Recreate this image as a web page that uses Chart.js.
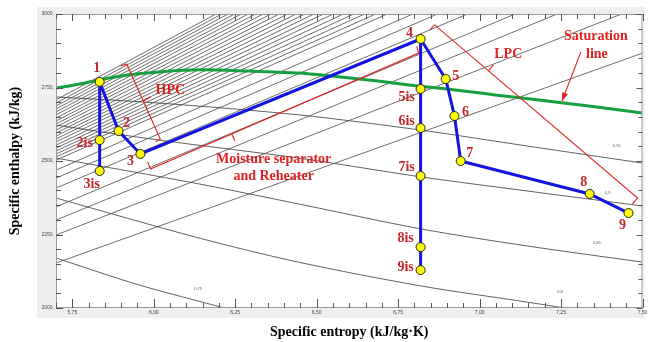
<!DOCTYPE html>
<html>
<head>
<meta charset="utf-8">
<script src="https://cdn.jsdelivr.net/npm/chart.js@4.4.1/dist/chart.umd.min.js"></script>
<style>
  html, body { margin: 0; padding: 0; background: #fff; }
</style>
</head>
<body>
<canvas id="mollier" width="648" height="342"></canvas>
<script>
// axis range (entropy kJ/kg·K, enthalpy kJ/kg)
const sMin = 5.70, sMax = 7.50;
const hMin = 2000, hMax = 3000;

// cycle state points
const stateNames = ["1", "2is", "3is", "2", "3", "4", "5is", "6is", "7is", "8is", "9is", "5", "6", "7", "8", "9"];
const stateS = [5.834, 5.834, 5.834, 5.892, 5.959, 6.819, 6.819, 6.819, 6.819, 6.819, 6.819, 6.896, 6.923, 6.942, 7.338, 7.457];
const stateH = [2769, 2571, 2466, 2602, 2524, 2915, 2745, 2612, 2449, 2207, 2129, 2779, 2653, 2500, 2388, 2323];

// process paths, by state name
const hpcIsentropic = ["1", "2is", "3is"];
const hpcActual = ["1", "2", "3", "4"];
const lpcIsentropic = ["4", "5is", "6is", "7is", "8is", "9is"];
const lpcActual = ["4", "5", "6", "7", "8", "9"];

// saturation line
const satS = [5.700, 5.773, 5.834, 5.926, 6.017, 6.139, 6.292, 6.444, 6.545, 6.688, 6.810, 6.902, 7.054, 7.207, 7.360, 7.500];
const satH = [2748, 2762, 2776, 2793, 2803, 2810, 2806, 2799, 2789, 2772, 2755, 2745, 2724, 2704, 2684, 2663];

// background isobars: h at left edge, end point at top / right edge
const isobarLeftH = [2708, 2697, 2687, 2677, 2667, 2657, 2646, 2636, 2626, 2616, 2605, 2595, 2585, 2575,
  2565, 2554, 2544, 2534, 2524, 2514, 2503, 2469, 2442, 2408, 2344, 2299, 2248, 2153];
const isobarEndS = [6.191, 6.209, 6.228, 6.248, 6.269, 6.290, 6.313, 6.336, 6.360, 6.385, 6.411, 6.437, 6.464, 6.492,
  6.521, 6.551, 6.582, 6.614, 6.647, 6.681, 6.717, 6.795, 6.871, 6.963, 7.109, 7.238, 7.436, 7.500];
const isobarEndH = [3000, 3000, 3000, 3000, 3000, 3000, 3000, 3000, 3000, 3000, 3000, 3000, 3000, 3000,
  3000, 3000, 3000, 3000, 3000, 3000, 3000, 3000, 3000, 3000, 3000, 3000, 3000, 2867];

// constant dryness lines
const qualityNames = ["0,95", "0,9", "0,85", "0,8", "0,75"];
const qualityS = [
  [5.700, 6.017, 6.444, 6.820, 7.146, 7.500],
  [5.700, 6.017, 6.444, 6.820, 7.146, 7.500],
  [5.700, 6.139, 6.444, 6.820, 7.146, 7.500],
  [5.700, 6.139, 6.444, 6.820, 7.146, 7.500],
  [5.700, 5.956, 6.216, 6.505]
];
const qualityH = [
  [2718, 2697, 2657, 2605, 2551, 2493],
  [2622, 2571, 2510, 2446, 2398, 2347],
  [2510, 2422, 2354, 2269, 2211, 2156],
  [2374, 2238, 2156, 2075, 2020, 1959],
  [2170, 2078, 2000, 1908]
];
const qualityLabelS = [7.421, 7.393, 7.360, 7.247, 6.136];
const qualityLabelH = [2551, 2391, 2221, 2054, 2065];

// red brackets and arrow (data coords)
const hpcBracket = [[5.898, 2823], [5.917, 2830], [6.020, 2575], [6.005, 2565]];
const hpcTick = [[5.968, 2704], [5.990, 2718]];
const msrBracket = [[5.981, 2497], [5.990, 2473], [6.813, 2867], [6.807, 2891]];
const msrTick = [[6.240, 2590], [6.249, 2568]];
const lpcBracket = [[6.847, 2946], [6.862, 2963], [7.485, 2374], [7.469, 2354]];
const lpcTick = [[7.027, 2806], [7.042, 2827]];
const satArrow = [[7.311, 2871], [7.253, 2704]];

const textLabels = [
  { text: "HPC", s: 6.051, h: 2741 },
  { text: "LPC", s: 7.088, h: 2864 },
  { text: "Moisture separator", s: 6.368, h: 2507 },
  { text: "and Reheater", s: 6.368, h: 2446 },
  { text: "Saturation", s: 7.357, h: 2925 },
  { text: "line", s: 7.360, h: 2861 }
];

// label offsets from each point, px
const stateLabelOffset = {
  "1": [-3, -14], "2": [8, -8], "3": [-10, 7], "2is": [-15, 3], "3is": [-8, 13],
  "4": [-11, -6], "5is": [-14, 8], "6is": [-14, -7], "7is": [-14, -9], "8is": [-15, -9], "9is": [-15, -3],
  "5": [10, -3], "6": [11, -4], "7": [9, -8], "8": [-6, -12], "9": [-6, 12]
};

const BLUE = "#1414e0";
const RED = "#e02222";
const LABEL_RED = "#c4282c";

function pathData(names) {
  return names.map(n => {
    const i = stateNames.indexOf(n);
    return { x: stateS[i], y: stateH[i] };
  });
}

function lineSet(data, color, width, order, tension) {
  return {
    data, showLine: true, borderColor: color, borderWidth: width,
    pointRadius: 0, fill: false, order, tension: tension || 0
  };
}

const datasets = [];

isobarLeftH.forEach((h, i) => {
  datasets.push(lineSet([{ x: sMin, y: h }, { x: isobarEndS[i], y: isobarEndH[i] }], "#474747", 0.8, 6));
});

qualityS.forEach((arr, i) => {
  datasets.push(lineSet(arr.map((s, j) => ({ x: s, y: qualityH[i][j] })), "#444", 0.85, 5, 0.3));
});

datasets.push(lineSet(satS.map((s, i) => ({ x: s, y: satH[i] })), "#16a040", 3, 3, 0.35));

[hpcIsentropic, hpcActual, lpcIsentropic, lpcActual].forEach(p => {
  datasets.push(lineSet(pathData(p), BLUE, 3, 1));
});

datasets.push({
  data: stateNames.map((n, i) => ({ x: stateS[i], y: stateH[i] })),
  pointRadius: 4.5, pointBackgroundColor: "#ffff00", pointBorderColor: "#222",
  pointBorderWidth: 1, showLine: false, order: 0
});

function strokePoly(ctx, xs, ys, pts) {
  ctx.beginPath();
  pts.forEach((p, i) => {
    const px = xs.getPixelForValue(p[0]), py = ys.getPixelForValue(p[1]);
    if (i === 0) ctx.moveTo(px, py); else ctx.lineTo(px, py);
  });
  ctx.stroke();
}

const mollierDecor = {
  id: "mollierDecor",
  beforeDraw(chart) {
    const { ctx, chartArea: a } = chart;
    ctx.save();
    ctx.fillStyle = "#fff";
    ctx.fillRect(0, 0, chart.width, chart.height);
    ctx.fillStyle = "#efefef";
    ctx.fillRect(a.left - 19, a.top - 7, a.right - a.left + 21, a.bottom - a.top + 17);
    ctx.fillStyle = "#fff";
    ctx.fillRect(a.left, a.top, a.right - a.left, a.bottom - a.top);
    ctx.restore();
  },
  afterDatasetsDraw(chart) {
    const { ctx, chartArea: a } = chart;
    const xs = chart.scales.x, ys = chart.scales.y;
    ctx.save();

    // frame + inward ticks
    ctx.strokeStyle = "#9a9a9a";
    ctx.lineWidth = 1;
    ctx.strokeRect(a.left + 0.5, a.top + 0.5, a.right - a.left - 1, a.bottom - a.top - 1);
    ctx.strokeStyle = "#555";
    ctx.beginPath();
    xs.ticks.forEach(t => {
      const px = Math.round(xs.getPixelForValue(t.value)) + 0.5;
      const major = Math.round(t.value * 100) % 25 === 0;
      ctx.moveTo(px, a.bottom); ctx.lineTo(px, a.bottom - (major ? 9 : 5));
      ctx.moveTo(px, a.top); ctx.lineTo(px, a.top + (major ? 7 : 5));
    });
    ys.ticks.forEach(t => {
      const py = Math.round(ys.getPixelForValue(t.value)) + 0.5;
      const major = t.value % 250 === 0;
      ctx.moveTo(a.left, py); ctx.lineTo(a.left + (major ? 7 : 5), py);
      ctx.moveTo(a.right, py); ctx.lineTo(a.right - (major ? 6 : 4), py);
    });
    ctx.stroke();

    // red brackets and arrow
    ctx.strokeStyle = RED;
    ctx.lineWidth = 1.1;
    [hpcBracket, hpcTick, msrBracket, msrTick, lpcBracket, lpcTick, satArrow].forEach(p => strokePoly(ctx, xs, ys, p));
    const x0 = xs.getPixelForValue(satArrow[0][0]), y0 = ys.getPixelForValue(satArrow[0][1]);
    const x1 = xs.getPixelForValue(satArrow[1][0]), y1 = ys.getPixelForValue(satArrow[1][1]);
    const ang = Math.atan2(y1 - y0, x1 - x0);
    ctx.fillStyle = RED;
    ctx.beginPath();
    ctx.moveTo(x1, y1);
    ctx.lineTo(x1 - 9 * Math.cos(ang - 0.35), y1 - 9 * Math.sin(ang - 0.35));
    ctx.lineTo(x1 - 9 * Math.cos(ang + 0.35), y1 - 9 * Math.sin(ang + 0.35));
    ctx.closePath();
    ctx.fill();

    // tiny dryness labels
    ctx.fillStyle = "#555";
    ctx.font = "4px 'Liberation Sans'";
    ctx.textAlign = "center";
    ctx.textBaseline = "middle";
    qualityNames.forEach((q, i) => {
      ctx.fillText(q, xs.getPixelForValue(qualityLabelS[i]), ys.getPixelForValue(qualityLabelH[i]));
    });
    ctx.restore();
  },
  afterDraw(chart) {
    const ctx = chart.ctx;
    const xs = chart.scales.x, ys = chart.scales.y;
    ctx.save();
    ctx.textAlign = "center";
    ctx.textBaseline = "middle";
    ctx.font = "bold 14px 'Liberation Serif'";
    ctx.fillStyle = LABEL_RED;
    stateNames.forEach((n, i) => {
      const off = stateLabelOffset[n];
      ctx.fillText(n, xs.getPixelForValue(stateS[i]) + off[0], ys.getPixelForValue(stateH[i]) + off[1]);
    });
    ctx.fillStyle = RED;
    textLabels.forEach(l => {
      ctx.fillText(l.text, xs.getPixelForValue(l.s), ys.getPixelForValue(l.h));
    });
    ctx.restore();
  }
};

const titleFont = { family: "'Liberation Serif'", size: 14, weight: "bold" };
const tickFont = { family: "'Liberation Sans'", size: 5 };

new Chart(document.getElementById("mollier"), {
  type: "scatter",
  data: { datasets },
  options: {
    responsive: false,
    animation: false,
    events: [],
    devicePixelRatio: 1,
    layout: { padding: { top: 14, right: 2, left: 0, bottom: 0 } },
    plugins: { legend: { display: false }, tooltip: { enabled: false } },
    scales: {
      x: {
        type: "linear", min: sMin, max: sMax,
        grid: { display: false, drawTicks: false },
        border: { display: false },
        ticks: {
          stepSize: 0.05, autoSkip: false, maxRotation: 0, padding: 2,
          font: tickFont, color: "#444",
          callback: v => (Math.round(v * 100) % 25 === 0 ? v.toFixed(2).replace(".", ",") : "")
        },
        title: { display: true, text: "Specific entropy (kJ/kg·K)", font: titleFont, color: "#000", padding: { top: 0, bottom: 1 } },
        afterFit: s => { s.height = 34; s.paddingLeft = 0; s.paddingRight = 0; }
      },
      y: {
        type: "linear", min: hMin, max: hMax,
        grid: { display: false, drawTicks: false },
        border: { display: false },
        ticks: {
          stepSize: 50, padding: 2, font: tickFont, color: "#444",
          callback: v => (v % 250 === 0 ? v + "," : "")
        },
        title: { display: true, text: "Specific enthalpy (kJ/kg)", font: titleFont, color: "#000", padding: { top: 7, bottom: 0 } },
        afterFit: s => { s.width = 56; s.paddingTop = 0; s.paddingBottom = 0; }
      }
    }
  },
  plugins: [mollierDecor]
});
</script>
</body>
</html>
